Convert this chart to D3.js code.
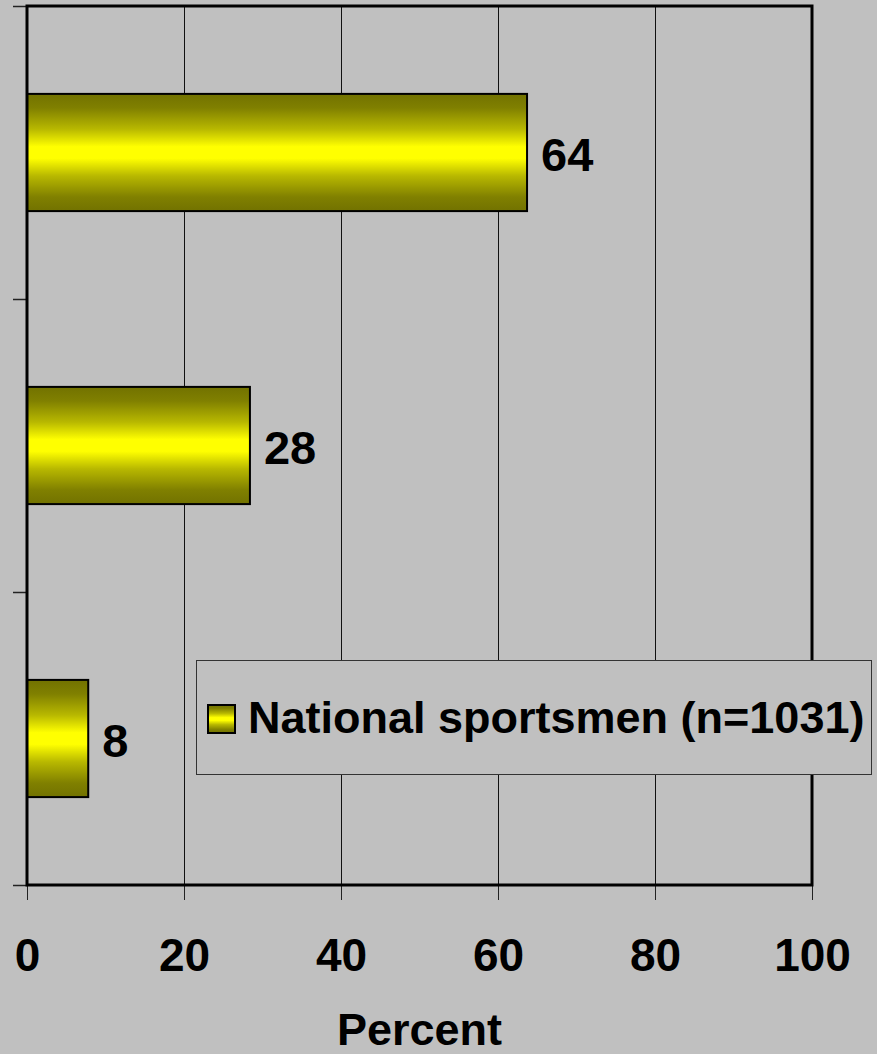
<!doctype html>
<html>
<head>
<meta charset="utf-8">
<style>
    body { margin: 0; background: #c0c0c0; }
    svg { display: block; }
    text { font-family: "Liberation Sans", Arial, sans-serif; font-weight: bold; fill: #000; }
</style>
<script src="https://d3js.org/d3.v7.min.js"></script>
</head>
<body>
<svg width="877" height="1054"></svg>
<script>
    // data (top bar first)
    var categories = ["group1", "group2", "group3"];
    var values = [63.7, 28.4, 7.8];
    var xTicks = [0, 20, 40, 60, 80, 100];
    var seriesName = "National sportsmen (n=1031)";
    var axisTitle = "Percent";

    var svg = d3.select("svg"),
        plotLeft = 27, plotRight = 812, plotTop = 6, plotBottom = 885;

    svg.append("rect").attr("width", 877).attr("height", 1054).attr("fill", "#c0c0c0");

    var defs = svg.append("defs");
    var grad = defs.append("linearGradient")
        .attr("id", "barGrad")
        .attr("x1", 0).attr("y1", 0).attr("x2", 0).attr("y2", 1);
    [[0, "#727200"], [0.12, "#808000"], [0.3, "#b8b800"], [0.45, "#ffff00"],
     [0.55, "#ffff00"], [0.7, "#b8b800"], [0.88, "#808000"], [1, "#727200"]]
        .forEach(function(s) {
            grad.append("stop").attr("offset", s[0]).attr("stop-color", s[1]);
        });

    var x = d3.scaleLinear().domain([0, 100]).range([plotLeft, plotRight]);
    var y = d3.scaleBand().domain(categories).range([plotTop, plotBottom])
        .paddingInner(0.6).paddingOuter(0.3);
    var yb = d3.scaleLinear().domain([0, categories.length]).range([plotTop, plotBottom]);

    // gridlines
    svg.append("g").selectAll("line")
        .data(xTicks.slice(1, -1))
        .enter().append("line")
        .attr("x1", function(d) { return x(d); })
        .attr("x2", function(d) { return x(d); })
        .attr("y1", plotTop).attr("y2", plotBottom)
        .attr("stroke", "#111").attr("stroke-width", 1)
        .attr("shape-rendering", "crispEdges");

    // bottom axis
    var xAxis = svg.append("g")
        .attr("transform", "translate(0," + plotBottom + ")")
        .call(d3.axisBottom(x).tickValues(xTicks).tickSize(15).tickPadding(38));
    xAxis.select(".domain").remove();
    xAxis.selectAll(".tick line").attr("stroke", "#222").attr("stroke-width", 1)
        .attr("shape-rendering", "crispEdges");
    xAxis.selectAll("text").style("font-size", "46px").attr("font-family", null);

    // left axis ticks at category boundaries
    var yAxis = svg.append("g")
        .attr("transform", "translate(" + plotLeft + ",0)")
        .call(d3.axisLeft(yb).tickValues(d3.range(categories.length + 1)).tickSize(14).tickFormat(""));
    yAxis.select(".domain").remove();
    yAxis.selectAll(".tick line").attr("stroke", "#222").attr("stroke-width", 1.5);

    // bars
    svg.append("g").selectAll("rect")
        .data(values)
        .enter().append("rect")
        .attr("x", x(0))
        .attr("y", function(d, i) { return y(categories[i]); })
        .attr("width", function(d) { return x(d) - x(0); })
        .attr("height", y.bandwidth())
        .attr("fill", "url(#barGrad)")
        .attr("stroke", "#000").attr("stroke-width", 2);

    // value labels
    svg.append("g").selectAll("text")
        .data(values)
        .enter().append("text")
        .attr("x", function(d) { return x(d) + 14; })
        .attr("y", function(d, i) { return y(categories[i]) + y.bandwidth() / 2; })
        .attr("dy", "0.4em")
        .style("font-size", "47px")
        .text(function(d) { return d3.format(".0f")(d); });

    // plot frame
    svg.append("rect")
        .attr("x", plotLeft).attr("y", plotTop)
        .attr("width", plotRight - plotLeft).attr("height", plotBottom - plotTop)
        .attr("fill", "none").attr("stroke", "#000").attr("stroke-width", 3);

    // legend
    var lg = svg.append("g");
    lg.append("rect")
        .attr("x", 196.5).attr("y", 660.5).attr("width", 675).attr("height", 114)
        .attr("fill", "#c0c0c0").attr("stroke", "#333").attr("stroke-width", 1);
    lg.append("rect")
        .attr("x", 208).attr("y", 705).attr("width", 27).attr("height", 28)
        .attr("fill", "url(#barGrad)").attr("stroke", "#000").attr("stroke-width", 2);
    lg.append("text")
        .attr("x", 248).attr("y", 733)
        .style("font-size", "45px")
        .text(seriesName);

    // axis title
    svg.append("text")
        .attr("x", (plotLeft + plotRight) / 2).attr("y", 1045)
        .attr("text-anchor", "middle")
        .style("font-size", "45px")
        .text(axisTitle);
</script>
</body>
</html>
